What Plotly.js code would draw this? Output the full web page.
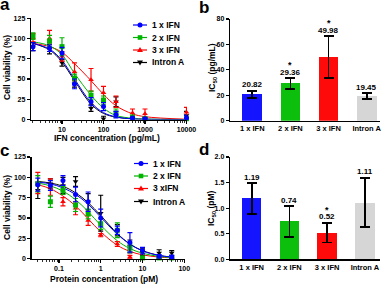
<!DOCTYPE html>
<html><head><meta charset="utf-8">
<script src="https://cdn.plot.ly/plotly-3.0.1.min.js"></script>
<style>html,body{margin:0;padding:0;background:#fff}#chart{width:387px;height:284px}</style>
</head><body><div id="chart"></div>
<script>
// ---------- DATA ----------
// Panel a: IFN concentration (pg/mL)
const aDose = [2, 5, 10, 20, 50, 100, 200, 500, 1000, 10000];
const a1x = [90, 88, 82, 44, 22, 16, 6, 2, 1, 2];
const a1xErr = [5, 4, 7, 6, 5, 5, 4, 1, 1, 3];
const a2x = [103, 97, 90, 51, 30, 24, 8, 3, 1, 1];
const a2xErr = [4, 7, 11, 5, 5, 5, 5, 2, 1, 1];
const a3x = [101, 100, 78, 59, 49, 33, 22, 8, 7, 9];
const a3xErr = [5, 10, 6, 11, 14, 8, 7, 5, 6, 6];
const aIntron = [90, 87, 70, 44, 14, 1, 22, 1, 1, 5];
const aIntronErr = [5, 6, 4, 4, 4, 3, 6, 1, 1, 5];
// fitted curves
const aFit1x = [94, 87, 73, 50, 21, 8.5, 3.2, 0.8, 0.3, 0];
const aFit2x = [96, 91, 80, 57, 30, 14, 5, 1.5, 0.5, 0];
const aFit3x = [94, 90, 83, 69, 48, 31, 17, 7, 3.5, 0.3];
const aFitIntron = [94, 86, 71, 48, 19, 7.5, 2.9, 0.7, 0.3, 0];

// Panel c: protein concentration (pM)
const cDose = [0.03125, 0.0625, 0.125, 0.25, 0.5, 1, 2.5, 5, 10, 25, 50];
const c1x = [91, 90, 96, 79, 70, 50, 35, 20, 10, 3, 2];
const c1xErr = [8, 6, 6, 9, 12, 11, 5, 12, 4, 2, 2];
const c2x = [92, 70, 84, 66, 55, 43, 35, 13, 1, 1, 1];
const c2xErr = [10, 7, 5, 8, 6, 7, 9, 5, 1, 1, 1];
const c3x = [93, 88, 70, 62, 47, 29, 18, 2, 1, 1, 1];
const c3xErr = [13, 10, 5, 8, 6, 2, 3, 2, 1, 1, 1];
const cIntron = [84, 92, 90, 95, 70, 56, 35, 15, 8, 7, 7];
const cIntronErr = [10, 6, 10, 6, 10, 22, 7, 8, 4, 4, 3];
const cFit1x = [94, 92, 87, 79, 67, 51, 30, 18, 9.5, 4, 2];
const cFit2x = [93, 89.5, 83, 72.5, 58, 41, 22, 12.5, 6.7, 2.8, 1.4];
const cFit3x = [91, 86, 77, 65, 49, 33, 16.5, 9, 4.7, 2, 1];
const cFitIntron = [95, 93, 89, 81, 69, 53, 31, 18, 10, 4, 2];

// Panel b / d: IC50
const groups = ['1 x IFN', '2 x IFN', '3 x IFN', 'Intron A'];
const bIC50 = [20.82, 29.36, 49.98, 19.45];
const bErr = [2.7, 4.2, 16.6, 2.2];
const bLabels = ['20.82', '29.36', '49.98', '19.45'];
const bStar = ['', '*', '*', ''];
const dIC50 = [1.19, 0.74, 0.52, 1.11];
const dErr = [0.30, 0.30, 0.19, 0.48];
const dLabels = ['1.19', '0.74', '0.52', '1.11'];
const dStar = ['', '', '*', ''];

const namesA = ['1 x IFN', '2 x IFN', '3 x IFN', 'Intron A'];
const namesC = ['1 x IFN', '2 x IFN', '3 xIFN', 'Intron A'];
const aTicks = [10, 100, 1000, 10000];
const cTicks = [0.1, 1, 10, 100];

// ---------- STYLE ----------
const W = 387, H = 284;
const px = x => x / W;
const py = y => 1 - y / H;
const FONT = 'Liberation Sans, Arial, sans-serif';
const colors = ['#0000ff', '#00b400', '#ff0000', '#000000'];
const barColors = ['#1414ff', '#0cbf0c', '#ff0a0a', '#d6d6d6'];
const symbols = ['circle', 'square', 'triangle-up', 'triangle-down'];

function minorLog(lo, hi) {
  const v = [];
  for (let e = lo; e < hi; e++) for (let k = 2; k <= 9; k++) v.push(k * Math.pow(10, e));
  return v;
}

const traces = [];
function addDose(xa, ya, dose, sets, fits) {
  const order = [3, 2, 1, 0];
  order.forEach(i => {
    traces.push({type: 'scatter', mode: 'lines', x: dose, y: fits[i], xaxis: xa, yaxis: ya,
      line: {color: colors[i], width: 1, shape: 'spline', smoothing: 1}, showlegend: false,
      hoverinfo: 'skip', cliponaxis: false});
  });
  order.forEach(i => {
    traces.push({type: 'scatter', mode: 'markers', x: dose, y: sets[i][0], xaxis: xa, yaxis: ya,
      marker: {color: colors[i], symbol: symbols[i], size: 5},
      error_y: {type: 'data', array: sets[i][1], visible: true, color: colors[i], thickness: 1.2, width: 2.5},
      showlegend: false, cliponaxis: false});
  });
}
addDose('x', 'y', aDose, [[a1x, a1xErr], [a2x, a2xErr], [a3x, a3xErr], [aIntron, aIntronErr]],
  [aFit1x, aFit2x, aFit3x, aFitIntron]);
addDose('x3', 'y3', cDose, [[c1x, c1xErr], [c2x, c2xErr], [c3x, c3xErr], [cIntron, cIntronErr]],
  [cFit1x, cFit2x, cFit3x, cFitIntron]);

function addBars(xa, ya, vals, errs) {
  traces.push({type: 'bar', x: groups, y: vals, xaxis: xa, yaxis: ya, width: 0.52,
    marker: {color: barColors, line: {width: 0}},
    error_y: {type: 'data', array: errs, visible: true, color: '#000', thickness: 1.8, width: 5},
    showlegend: false});
}
addBars('x2', 'y2', bIC50, bErr);
addBars('x4', 'y4', dIC50, dErr);

const tickFont = {family: FONT, size: 7, color: '#000', weight: 'bold'};
const axBase = {showline: true, linecolor: '#000', linewidth: 1.3, ticks: 'outside', ticklen: 3,
  tickwidth: 1.2, tickcolor: '#000', showgrid: false, zeroline: false, tickfont: tickFont,
  fixedrange: true, automargin: false};

const layout = {
  width: W, height: H, margin: {l: 0, r: 0, t: 0, b: 0}, paper_bgcolor: '#fff', plot_bgcolor: 'rgba(0,0,0,0)',
  showlegend: false, bargap: 0,
  xaxis: Object.assign({}, axBase, {domain: [px(31), px(187)], type: 'log', range: [0.253, 4.012],
    tickvals: aTicks, ticktext: aTicks.map(String), anchor: 'y',
    minor: {tickvals: minorLog(0, 4), ticks: 'outside', ticklen: 1.8, tickwidth: 0.8, tickcolor: '#000'}}),
  yaxis: Object.assign({}, axBase, {domain: [py(119.5), py(18.3)], range: [0, 125], dtick: 25, anchor: 'x'}),
  xaxis3: Object.assign({}, axBase, {domain: [px(31.5), px(185)], type: 'log', range: [-1.656, 2.017],
    tickvals: cTicks, ticktext: ['0.1', '1', '10', '100'], anchor: 'y3',
    minor: {tickvals: minorLog(-2, 2), ticks: 'outside', ticklen: 1.8, tickwidth: 0.8, tickcolor: '#000'}}),
  yaxis3: Object.assign({}, axBase, {domain: [py(258.7), py(157)], range: [0, 125], dtick: 25, anchor: 'x3'}),
  xaxis2: Object.assign({}, axBase, {domain: [px(230), px(380)], range: [-0.585, 3.35], anchor: 'y2',
    ticks: '', tickfont: Object.assign({}, tickFont, {size: 7.5})}),
  yaxis2: Object.assign({}, axBase, {domain: [py(120.7), py(19)], range: [0, 80], dtick: 20, anchor: 'x2'}),
  xaxis4: Object.assign({}, axBase, {domain: [px(230), px(380)], range: [-0.574, 3.40], anchor: 'y4',
    ticks: '', tickfont: Object.assign({}, tickFont, {size: 7.5})}),
  yaxis4: Object.assign({}, axBase, {domain: [py(259.3), py(157)], range: [0, 2], dtick: 0.5,
    tickformat: '.1f', anchor: 'x4'}),
  annotations: [],
  shapes: []
};

const ann = layout.annotations;
const txt = (text, x, y, opts) => Object.assign({text, x: px(x), y: py(y), xref: 'paper', yref: 'paper',
  xanchor: 'center', yanchor: 'middle', showarrow: false,
  font: {family: FONT, size: 8.5, color: '#000', weight: 'bold'}}, opts || {});
const bigFont = {family: FONT, size: 17, color: '#000', weight: 'bold'};

// panel letters
ann.push(txt('a', 4.5, 5, {font: bigFont}));
ann.push(txt('b', 204, 8, {font: bigFont}));
ann.push(txt('c', 4.5, 150, {font: bigFont}));
ann.push(txt('d', 204, 149, {font: bigFont}));
// axis titles
ann.push(txt('Cell viability (%)', 7, 68, {textangle: -90}));
ann.push(txt('IFN concentration (pg/mL)', 107, 137.5));
ann.push(txt('Cell viability (%)', 7, 208, {textangle: -90}));
ann.push(txt('Protein concentration (pM)', 104, 278.5));
ann.push(txt('IC<sub>50</sub> (pg/mL)', 212, 68, {textangle: -90}));
ann.push(txt('IC<sub>50</sub> (pM)', 211, 208, {textangle: -90}));

// bar value labels & stars
function barLabels(xa, ya, vals, errs, labels, stars) {
  groups.forEach((g, i) => {
    ann.push({text: labels[i], x: g, y: vals[i] + errs[i], xref: xa, yref: ya, xanchor: 'center',
      yanchor: 'middle', yshift: 6, showarrow: false,
      font: {family: FONT, size: 8, color: '#000', weight: 'bold'}});
    if (stars[i]) ann.push({text: stars[i], x: g, y: vals[i] + errs[i], xref: xa, yref: ya, xanchor: 'center',
      yanchor: 'middle', yshift: 13, showarrow: false,
      font: {family: FONT, size: 9, color: '#000', weight: 'bold'}});
  });
}
barLabels('x2', 'y2', bIC50, bErr, bLabels, bStar);
barLabels('x4', 'y4', dIC50, dErr, dLabels, dStar);

// custom legends
function legend(names, rows, lineX0, lineX1, textX) {
  names.forEach((n, i) => {
    const Y = rows[i], c = colors[i], cx = (lineX0 + lineX1) / 2;
    layout.shapes.push({type: 'line', xref: 'paper', yref: 'paper', x0: px(lineX0), x1: px(lineX1),
      y0: py(Y), y1: py(Y), line: {color: c, width: 1.2}});
    const g = {xref: 'paper', yref: 'paper', xsizemode: 'pixel', ysizemode: 'pixel',
      xanchor: px(cx), yanchor: py(Y), fillcolor: c, line: {width: 0}};
    if (symbols[i] === 'circle') layout.shapes.push(Object.assign({type: 'circle', x0: -2.5, x1: 2.5, y0: -2.5, y1: 2.5}, g));
    else if (symbols[i] === 'square') layout.shapes.push(Object.assign({type: 'rect', x0: -2.3, x1: 2.3, y0: -2.3, y1: 2.3}, g));
    else if (symbols[i] === 'triangle-up') layout.shapes.push(Object.assign({type: 'path', path: 'M-3,-2 L3,-2 L0,3 Z'}, g));
    else layout.shapes.push(Object.assign({type: 'path', path: 'M-3,2 L3,2 L0,-3 Z'}, g));
    ann.push(txt(n, textX, Y, {xanchor: 'left', yanchor: 'middle'}));
  });
}
legend(namesA, [25, 37.5, 50, 62.5], 133, 147, 150);
legend(namesC, [163.5, 176, 188.5, 201.5], 134, 148, 151);

Plotly.newPlot('chart', traces, layout, {staticPlot: true, displayModeBar: false});
</script></body></html>
